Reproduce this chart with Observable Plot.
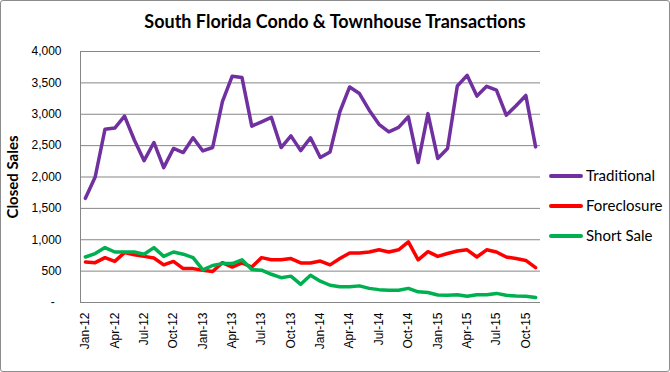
<!DOCTYPE html>
<html>
<head>
<meta charset="utf-8">
<script src="https://cdn.jsdelivr.net/npm/d3@7"></script>
<script src="https://cdn.jsdelivr.net/npm/@observablehq/plot@0.6"></script>
<style>
  html, body { margin: 0; padding: 0; background: #fff; }
  #chart { position: relative; width: 670px; height: 372px; overflow: hidden; background: #fff; }
  #chart svg { position: absolute; left: 0; top: 0; }
  #frame { position: absolute; left: 0; top: 0; width: 668px; height: 370px; border: 1px solid #8c8c8c; border-radius: 3px; pointer-events: none; }
  #title { position: absolute; left: 0; top: 10px; width: 670px; text-align: center; font: bold 18px Lato, "Open Sans", sans-serif; color: #000; }
  .item { position: absolute; left: 549px; height: 20px; font: 15px Lato, "Open Sans", sans-serif; color: #000; }
  .item .sw { position: absolute; left: 0; top: 8px; width: 34px; height: 4px; border-radius: 2px; }
  .item .lb { position: absolute; left: 37px; top: 0px; white-space: nowrap; }
  g[aria-label="y-axis label"] { font-weight: bold; font-size: 15px; font-family: Lato, "Open Sans", sans-serif; }
</style>
</head>
<body>
<div id="chart">
  <div id="title">South Florida Condo &amp; Townhouse Transactions</div>
</div>
<script>
const months = [
  "Jan-12","Feb-12","Mar-12","Apr-12","May-12","Jun-12","Jul-12","Aug-12","Sep-12","Oct-12","Nov-12","Dec-12",
  "Jan-13","Feb-13","Mar-13","Apr-13","May-13","Jun-13","Jul-13","Aug-13","Sep-13","Oct-13","Nov-13","Dec-13",
  "Jan-14","Feb-14","Mar-14","Apr-14","May-14","Jun-14","Jul-14","Aug-14","Sep-14","Oct-14","Nov-14","Dec-14",
  "Jan-15","Feb-15","Mar-15","Apr-15","May-15","Jun-15","Jul-15","Aug-15","Sep-15","Oct-15","Nov-15"
];
const tickLabels = [
  "Jan-12","Apr-12","Jul-12","Oct-12","Jan-13","Apr-13","Jul-13","Oct-13",
  "Jan-14","Apr-14","Jul-14","Oct-14","Jan-15","Apr-15","Jul-15","Oct-15"
];
const traditional = [1660,2000,2760,2780,2970,2590,2260,2550,2150,2455,2390,2625,
  2415,2470,3200,3606,3585,2810,2880,2950,2470,2655,2420,2625,
  2310,2400,3040,3435,3330,3065,2840,2720,2790,2960,2230,3010,
  2295,2455,3450,3620,3290,3445,3385,2985,3135,3300,2480];
const foreclosure = [645,635,715,655,795,760,735,710,600,655,540,540,
  515,495,635,565,630,565,715,680,680,700,630,630,
  660,600,700,790,790,805,840,805,840,965,680,810,
  735,780,820,840,725,840,805,725,700,670,555];
const shortSale = [725,780,875,805,805,805,770,875,735,805,770,715,
  520,590,620,620,680,525,515,450,395,420,290,435,
  340,275,250,250,265,225,205,195,195,225,170,160,
  120,115,125,100,125,125,145,115,105,100,80];
const yTicks = [0,500,1000,1500,2000,2500,3000,3500,4000];
const seriesNames = ["Traditional","Foreclosure","Short Sale"];
const seriesColors = ["#7030A0","#FF0000","#00B050"];

const seriesValues = [traditional, foreclosure, shortSale];
const rows = seriesNames.flatMap((name, s) =>
  months.map((m, i) => ({series: name, month: m, value: seriesValues[s][i]})));

const fmt = d3.format(",");
const plot = Plot.plot({
  width: 670,
  height: 372,
  marginTop: 51,
  marginBottom: 70,
  marginLeft: 80,
  marginRight: 130,
  style: {fontFamily: "'Liberation Sans', Arial, sans-serif", fontSize: "12px", color: "#000", background: "transparent"},
  x: {type: "point", domain: months, padding: 0.5},
  y: {domain: [0, 4000]},
  color: {domain: seriesNames, range: seriesColors},
  marks: [
    Plot.gridY(yTicks.filter(d => d > 0), {stroke: "#868686", strokeOpacity: 1, strokeWidth: 1}),
    Plot.ruleY([0], {stroke: "#868686", strokeWidth: 1}),
    Plot.frame({anchor: "left", stroke: "#868686", strokeWidth: 1}),
    Plot.axisY(yTicks, {
      tickSize: 0, tickPadding: 19,
      tickFormat: d => d === 0 ? "-\u00a0\u00a0" : fmt(d),
      label: "Closed Sales", labelAnchor: "center", labelArrow: "none", labelOffset: 73
    }),
    Plot.axisX(tickLabels, {tickSize: 0, tickPadding: 10, tickRotate: -90, label: null}),
    Plot.line(rows, {x: "month", y: "value", z: "series", stroke: "series", strokeWidth: 3.5, strokeLinejoin: "round", strokeLinecap: "round"})
  ]
});
const chart = document.getElementById("chart");
chart.insertBefore(plot, chart.firstChild);

const legendTops = [166, 196, 226];
seriesNames.forEach((name, i) => {
  const item = document.createElement("div");
  item.className = "item";
  item.style.top = legendTops[i] + "px";
  item.innerHTML = `<div class="sw" style="background:${seriesColors[i]}"></div><div class="lb">${name}</div>`;
  chart.appendChild(item);
});
const frame = document.createElement("div");
frame.id = "frame";
chart.appendChild(frame);
</script>
</body>
</html>
